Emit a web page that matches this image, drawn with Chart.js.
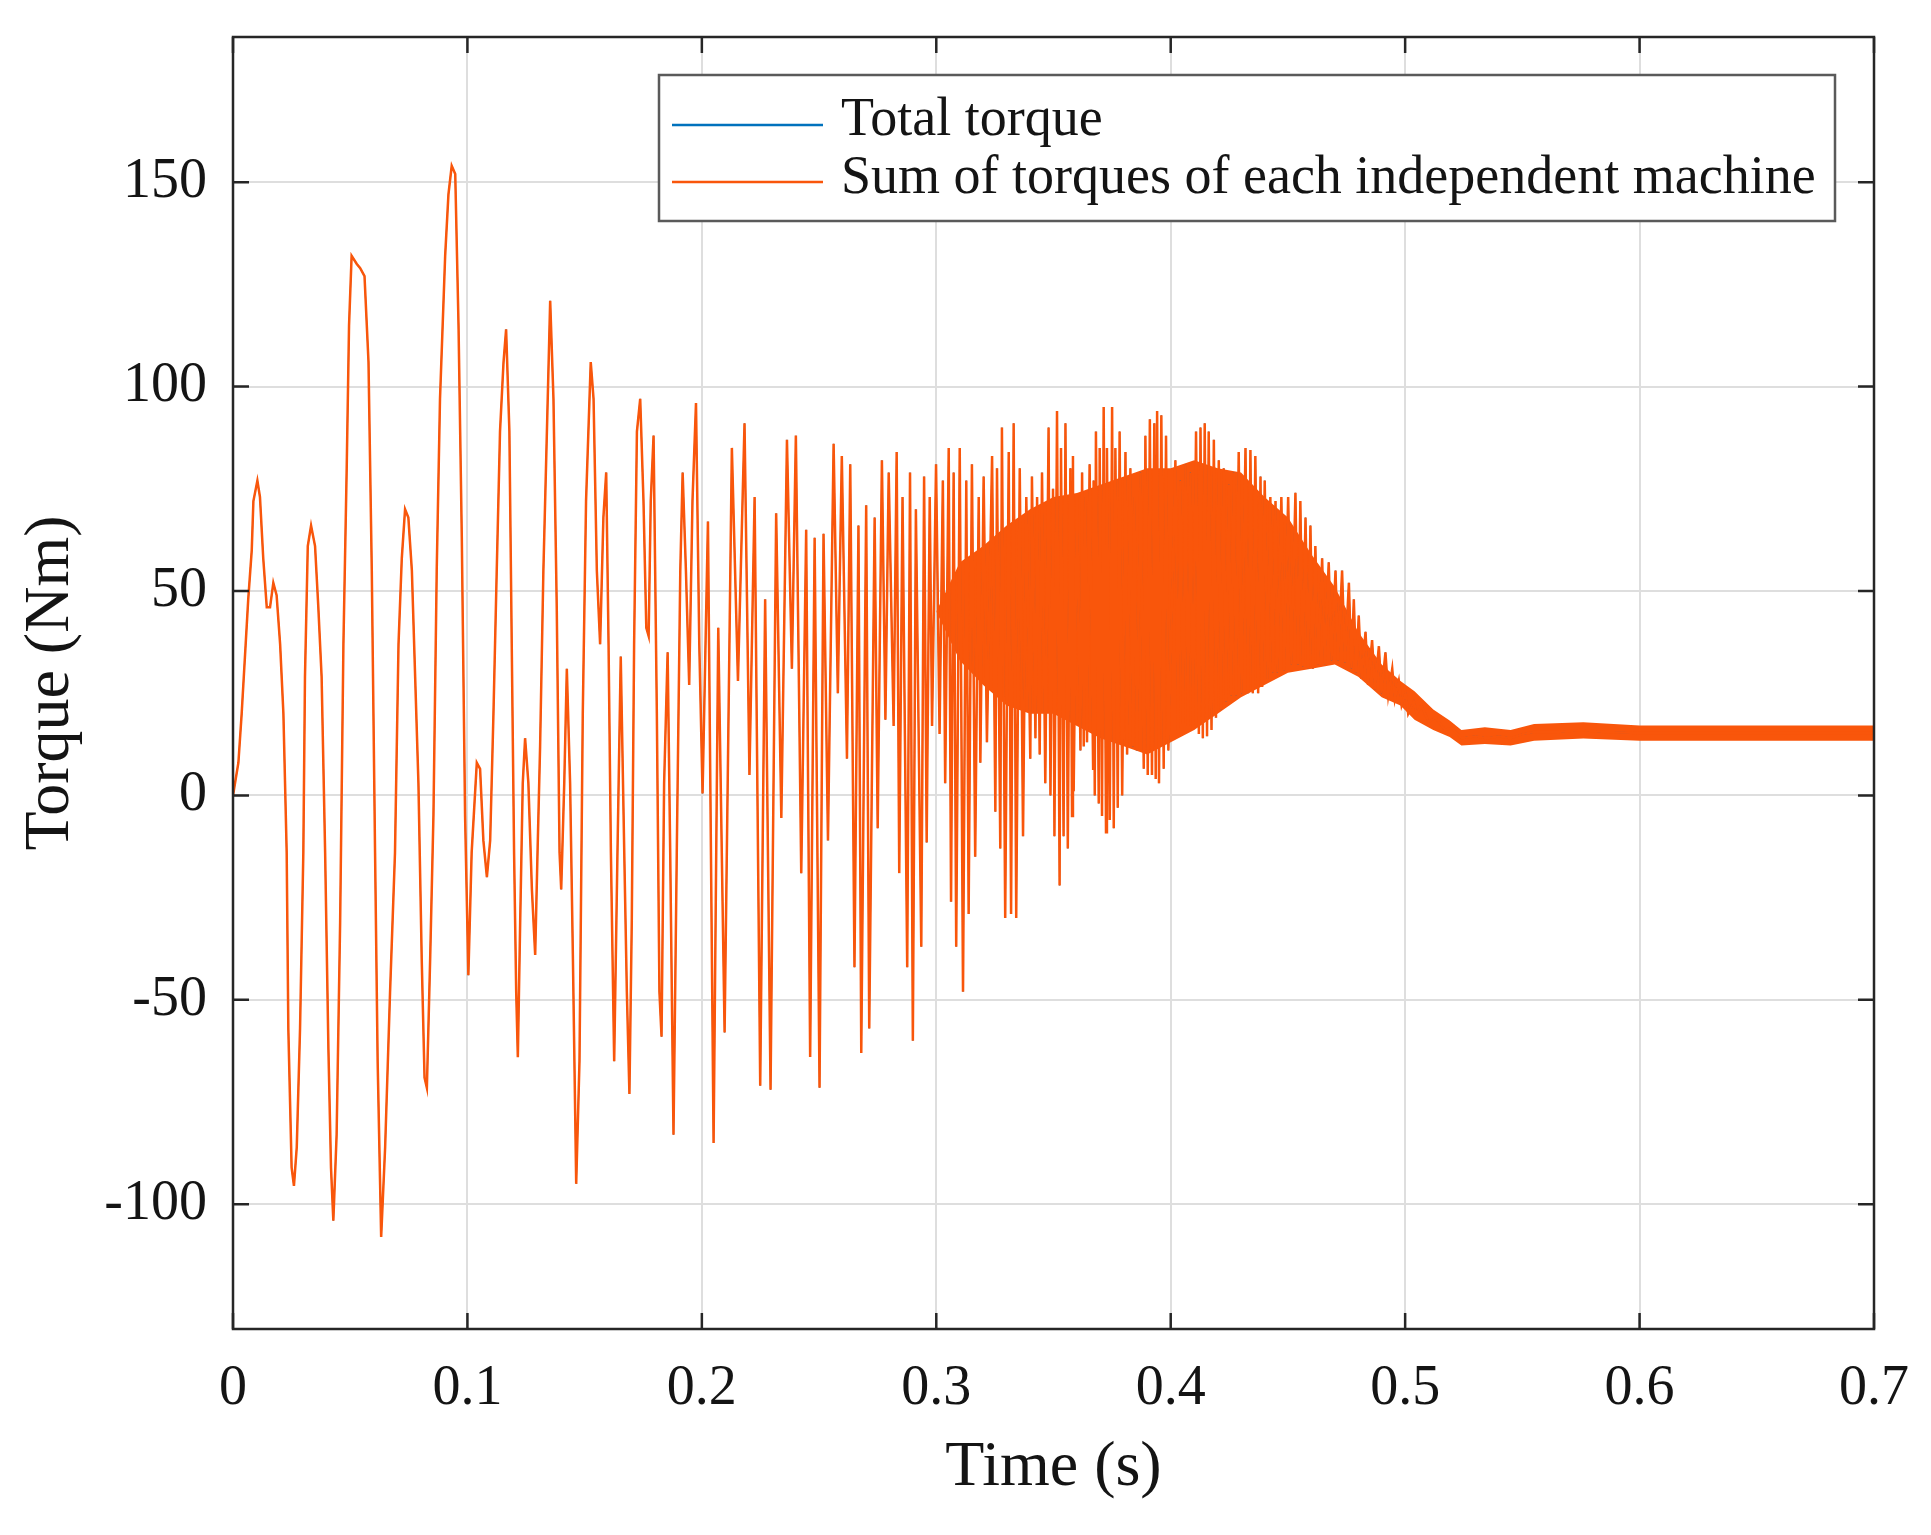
<!DOCTYPE html>
<html>
<head>
<meta charset="utf-8">
<title>Torque</title>
<script src="https://cdn.jsdelivr.net/npm/chart.js@4.4.1/dist/chart.umd.min.js"></script>
<style>
  html, body { margin: 0; padding: 0; background: #fff; }
  #wrap { width: 1931px; height: 1535px; position: relative; }
</style>
</head>
<body>
<div id="wrap"><canvas id="chart-torque"></canvas></div>
<script>
// ── Données ───────────────────────────────────────────────
// Série de couple : sommets et creux successifs (temps en s, couple en Nm)
const timeS = [
  // 0 – 0.1 s
  0,0.0023,0.0037,0.0051,0.0065,0.008,0.0087,0.0104,0.0115,0.0129,
  0.0144,0.0158,0.0172,0.0186,0.0201,0.0215,0.0229,0.0236,0.025,0.026,
  0.0272,0.0286,0.03,0.0307,0.0319,0.0333,0.035,0.0364,0.0378,0.0393,
  0.0407,0.0418,0.0428,0.0442,0.0457,0.0471,0.0485,0.0495,0.0506,0.0528,
  0.0542,0.0561,0.0578,0.0592,0.0606,0.0617,0.0632,0.0649,0.067,0.0691,
  0.0706,0.072,0.0734,0.0748,0.0763,0.0777,0.0791,0.0805,0.0817,0.0827,
  0.0841,0.0855,0.0869,0.0883,0.0905,0.0919,0.0933,0.0948,0.0962,0.0976,
  0.099,
  // 0.1 – 0.2 s
  0.1004,0.1018,0.104,0.1054,0.1068,0.1083,0.1097,0.1111,0.1125,0.1139,
  0.1154,0.1165,0.1179,0.1189,0.1199,0.1208,0.1215,0.1225,0.1236,0.1246,
  0.126,0.1275,0.1289,0.1299,0.131,0.1324,0.1339,0.1353,0.1367,0.1381,
  0.1393,0.14,0.1413,0.1424,0.1438,0.145,0.1464,0.1478,0.1492,0.1506,
  0.1526,0.1538,0.1552,0.1566,0.158,0.1592,0.1602,0.1612,0.1626,0.164,
  0.1654,0.1669,0.168,0.1691,0.1701,0.1711,0.1723,0.1737,0.1751,0.1763,
  0.1773,0.1782,0.1794,0.1808,0.1819,0.1828,0.1839,0.1854,0.1865,0.1879,
  0.1893,0.1908,0.1918,0.1932,0.1946,0.196,0.1975,0.1989,0.2003,
  // 0.2 – 0.3 s
  0.2026,0.205,0.207,0.2097,0.2128,0.2154,0.2182,0.2203,0.2225,0.2249,
  0.227,0.2293,0.2317,0.2339,0.2363,0.2384,0.2401,0.2424,0.2445,0.2462,
  0.2481,0.2502,0.2519,0.2538,0.2562,0.258,0.2597,0.2619,0.2633,0.2651,
  0.2668,0.268,0.2701,0.2714,0.2737,0.275,0.2768,0.2783,0.2797,0.2818,
  0.2831,0.2842,0.2856,0.2876,0.2888,0.29,0.2913,0.2936,0.2948,0.2959,
  0.2972,0.2982,0.2999,
  // 0.3 – 0.4 s
  0.3014,0.3028,0.3038,0.3053,0.3063,0.3074,0.3085,0.31,0.3114,0.3128,
  0.3138,0.3152,0.3166,0.3181,0.3188,0.3202,0.3216,0.3238,0.3252,0.3259,
  0.3273,0.328,0.3294,0.3309,0.3319,0.333,0.3341,0.3356,0.337,0.3384,
  0.3401,0.3408,0.3423,0.343,0.3441,0.3451,0.3465,0.3479,0.3487,0.3498,
  0.3504,0.3515,0.3526,0.3532,0.3543,0.3551,0.3561,0.3572,0.3579,0.3583,
  0.3586,0.36,0.3615,0.3622,0.3629,0.3636,0.3643,0.3654,0.3669,0.3671,
  0.3676,0.3681,0.3693,0.3697,0.3707,0.3714,0.3724,0.3728,0.374,0.375,
  0.3757,0.3764,0.3774,0.3782,0.3793,0.3807,0.3814,0.3828,0.3839,0.3845,
  0.3856,0.3871,0.3885,0.3892,0.3902,0.3911,0.392,0.393,0.3936,0.3942,
  0.395,0.396,0.397,0.398,0.399,
  // 0.4 – 0.5 s
  0.402,0.4031,0.4041,0.4053,0.4063,0.4074,0.4084,0.4095,0.4108,0.412,
  0.4127,0.4137,0.4145,0.4155,0.4162,0.4174,0.4184,0.4193,0.4205,0.4215,
  0.4226,0.4236,0.4248,0.4258,0.4269,0.4279,0.429,0.4302,0.4319,0.433,
  0.434,0.435,0.4361,0.4373,0.4383,0.439,0.4401,0.4413,0.4425,0.4435,
  0.4447,0.4455,0.4472,0.4484,0.4501,0.4515,0.4532,0.4543,0.4553,0.4563,
  0.4575,0.4586,0.4596,0.4606,0.4617,0.4629,0.4646,0.4657,0.4674,0.4686,
  0.4703,0.4714,0.4731,0.4743,0.476,0.4771,0.4781,0.4791,0.4802,0.4814,
  0.4831,0.4842,0.4859,0.4871,0.4888,0.4899,0.4916,0.4928,0.4945,0.4956,
  0.4973,0.4985,0.5002,0.5013,0.5037,
  // 0.5 – 0.7 s (régime établi)
  0.5049,0.507,0.51,0.513,0.517,0.52,0.524,0.53,0.535,0.54,
  0.545,0.55,0.555,0.565,0.575,0.585,0.6,0.65,0.7
];
const torqueNm = [
  // 0 – 0.1 s
  0,8,20,34,48,60,72,77,73,58,
  46,46,52,49,37,20,-14,-57,-91,-95.5,
  -86,-57,-14,29,61,66,61,46,29,-14,
  -62,-91,-104,-83,-31,37,80,115,132,130,
  129,127,106,55,-14,-65,-108,-86,-48,-14,
  37,58,70,68,55,29,3,-40,-69,-71.5,
  -40,-5,55,97,132,147,154,152,115,63,
  -5,
  // 0.1 – 0.2 s
  -44,-14,8,6.5,-11,-20,-11,20,55,89,
  106,114,89,37,-14,-48,-64,-31,3,14,
  3,-23,-39,-14,12,55,89,121,97,46,
  -14,-23,3,31,3,-40,-95,-65,20,72,
  106,97,55,37,68,79,37,-14,-65,-14,
  34,-14,-48,-73,-31,37,89,97,72,41,
  39,72,88,20,-48,-59,3,35,-14,-83,
  -14,55,79,55,27,72,96,37,0.5,
  // 0.2 – 0.3 s
  67,-85,41,-58,85,28,91,5,73,-71,
  48,-72,69,-5.5,87,31,88,-19,65,-64,
  63,-71.5,64,-11,86,25,83,9,81,-42,
  66,-63,71,-57,68,-8,82,18.5,79,17,
  84,-19,73,-42,79,-60,70,-37,78,-11.5,
  73,17,81,
  // 0.3 – 0.4 s
  15,77,3,85,-26,79,-37,85,-48,77,
  -29,81,-15,73,8,78,13,83,-4,80,
  -13,90,-30,84,-29,91,-30,80,-10,73,
  9,78,14,73,10,79,3,90,0,75,
  -10,94,-22,85,-10,91,-13,80,-5,83,
  1,73,11,79,12,73,13,81,6.5,77,
  0,89,-2,85,-5,95,-9,85,-6,95,
  -8,85,-3,89,0,84,10,80,12,73,
  11,79,6.5,88,5,92,5,91,4,94,
  3,93,6.5,88,11,
  // 0.4 – 0.5 s
  82,15,77,17.5,81,17,79,16,89,15,
  90,14,91,14.5,89,16,87,19,82,21,
  80,23,76,24.5,79,24.5,84,25,85,25,
  84.5,25,83,25,78,26.5,77,28.5,73,30,
  72,30,73,30.5,73,32,74,32,72,31.5,
  68,31,66,31,61,32,58,32,57,33,
  55,33,55,32.5,52,31,48,30,44,28.5,
  40,27,38,26,36.5,25,35,24.5,31,23.5,
  28,22,25,20,23,
  // 0.5 – 0.7 s
  20,22,18,19,16,16.5,14,14.5,14,14.5,
  14,15,15.5,15.5,16,15.5,15.3,15.3,15.3
];

// Enveloppe de la zone d'oscillation rapide (partie qui paraît pleine)
const bandTimeS   = [0.30,0.31,0.32,0.33,0.34,0.35,0.36,0.37,0.38,0.39,0.40,0.41,0.42,0.43,0.44,0.45,0.46,0.47,0.48,0.49,0.498,0.504,0.512,0.519,0.524,0.534,0.545,0.555,0.576,0.6,0.7];
const bandUpperNm = [45,57,61,66,70,73,74,76,78,80,80,82,80,79,73,68,59,51,40,32,28,25.5,21,18.3,16,16.7,16,17.5,17.9,17.1,17.1];
const bandLowerNm = [45,33,27,22,20,20,17,14,12,10,13,16,20,24,27,30,31,32,29,24,22,18.5,16,14.3,12.2,12.6,12.2,13.4,13.9,13.4,13.4];

// Axes et légende
const xTicks = [0, 0.1, 0.2, 0.3, 0.4, 0.5, 0.6, 0.7];
const yTicks = [-100, -50, 0, 50, 100, 150];
const seriesNames = ['Total torque', 'Sum of torques of each independent machine'];

// ── Styles ────────────────────────────────────────────────
const ORANGE = '#F9560B';
const BLUE = '#0072BD';
const AXIS_COLOR = '#262626';
const TEXT_COLOR = '#141414';
const FONT = '"Liberation Serif", "Times New Roman", serif';
const TICK_LEN = 16;

// Cadre façon MATLAB : boîte complète + graduations intérieures sur les 4 côtés
const frameBox = {
  id: 'frameBox',
  afterDatasetsDraw(chart) {
    const { ctx, chartArea: a, scales: { x, y } } = chart;
    ctx.save();
    ctx.strokeStyle = AXIS_COLOR;
    ctx.lineWidth = 2.5;
    ctx.strokeRect(a.left, a.top, a.right - a.left, a.bottom - a.top);
    ctx.beginPath();
    xTicks.forEach(v => {
      const px = x.getPixelForValue(v);
      ctx.moveTo(px, a.bottom); ctx.lineTo(px, a.bottom - TICK_LEN);
      ctx.moveTo(px, a.top);    ctx.lineTo(px, a.top + TICK_LEN);
    });
    yTicks.forEach(v => {
      const py = y.getPixelForValue(v);
      ctx.moveTo(a.left, py);  ctx.lineTo(a.left + TICK_LEN, py);
      ctx.moveTo(a.right, py); ctx.lineTo(a.right - TICK_LEN, py);
    });
    ctx.stroke();
    ctx.restore();
  }
};

// Légende encadrée en haut à droite, dans la zone du graphique
const legendBox = {
  id: 'legendBox',
  afterDraw(chart) {
    const { ctx, chartArea: a } = chart;
    const left = a.left + 426, top = a.top + 38, w = 1176, h = 146;
    ctx.save();
    ctx.fillStyle = '#ffffff';
    ctx.fillRect(left, top, w, h);
    ctx.strokeStyle = '#5a5a5a';
    ctx.lineWidth = 2.5;
    ctx.strokeRect(left, top, w, h);
    const rows = [
      { color: BLUE, lineY: top + 50, textY: top + 60 },
      { color: ORANGE, lineY: top + 107, textY: top + 118 }
    ];
    ctx.font = '54px ' + FONT;
    ctx.textBaseline = 'alphabetic';
    rows.forEach((r, i) => {
      ctx.strokeStyle = r.color;
      ctx.lineWidth = 2.5;
      ctx.beginPath();
      ctx.moveTo(left + 13, r.lineY);
      ctx.lineTo(left + 164, r.lineY);
      ctx.stroke();
      ctx.fillStyle = TEXT_COLOR;
      ctx.fillText(seriesNames[i], left + 182, r.textY);
    });
    ctx.restore();
  }
};

const toPoints = (xs, ys) => xs.map((t, i) => ({ x: t, y: ys[i] }));

new Chart(document.getElementById('chart-torque').getContext('2d'), {
  type: 'line',
  data: {
    datasets: [
      { // dessiné en dernier, donc au-dessus
        label: seriesNames[1],
        data: toPoints(timeS, torqueNm),
        borderColor: ORANGE, borderWidth: 2.5,
        pointRadius: 0, tension: 0, fill: false
      },
      { // même signal, entièrement recouvert par la courbe orange
        label: seriesNames[0],
        data: toPoints(timeS, torqueNm),
        borderColor: BLUE, borderWidth: 1.2,
        pointRadius: 0, tension: 0, fill: false
      },
      {
        label: 'band-upper',
        data: toPoints(bandTimeS, bandUpperNm),
        borderWidth: 0, borderColor: ORANGE, backgroundColor: ORANGE,
        pointRadius: 0, tension: 0, fill: '+1'
      },
      {
        label: 'band-lower',
        data: toPoints(bandTimeS, bandLowerNm),
        borderWidth: 0, borderColor: ORANGE,
        pointRadius: 0, tension: 0, fill: false
      }
    ]
  },
  options: {
    responsive: true,
    maintainAspectRatio: false,
    animation: false,
    layout: { padding: { top: 37, right: 57, left: 0, bottom: 0 } },
    plugins: { legend: { display: false }, tooltip: { enabled: false } },
    scales: {
      x: {
        type: 'linear', min: 0, max: 0.7,
        afterBuildTicks: s => { s.ticks = xTicks.map(v => ({ value: v })); },
        // hauteur fixe + pas de marge auto, pour caler la zone de tracé
        afterFit: s => { s.height = 206; s.paddingLeft = 0; s.paddingRight = 0; },
        grid: { color: '#dedede', lineWidth: 2, drawTicks: false },
        border: { display: false },
        ticks: {
          padding: 27, color: TEXT_COLOR, maxRotation: 0, autoSkip: false,
          font: { family: FONT, size: 56 }
        },
        title: {
          display: true, text: 'Time (s)', color: TEXT_COLOR,
          font: { family: FONT, size: 64 }, padding: { top: 0, bottom: 28 }
        }
      },
      y: {
        type: 'linear', min: -130.5, max: 185.5,
        afterBuildTicks: s => { s.ticks = yTicks.map(v => ({ value: v })); },
        afterFit: s => { s.width = 233; s.paddingTop = 0; s.paddingBottom = 0; },
        grid: { color: '#dedede', lineWidth: 2, drawTicks: false },
        border: { display: false },
        ticks: {
          padding: 26, color: TEXT_COLOR,
          font: { family: FONT, size: 56 }
        },
        title: {
          display: true, text: 'Torque (Nm)', color: TEXT_COLOR,
          font: { family: FONT, size: 64 }, padding: { top: 13, bottom: 0 }
        }
      }
    }
  },
  plugins: [frameBox, legendBox]
});
</script>
</body>
</html>
